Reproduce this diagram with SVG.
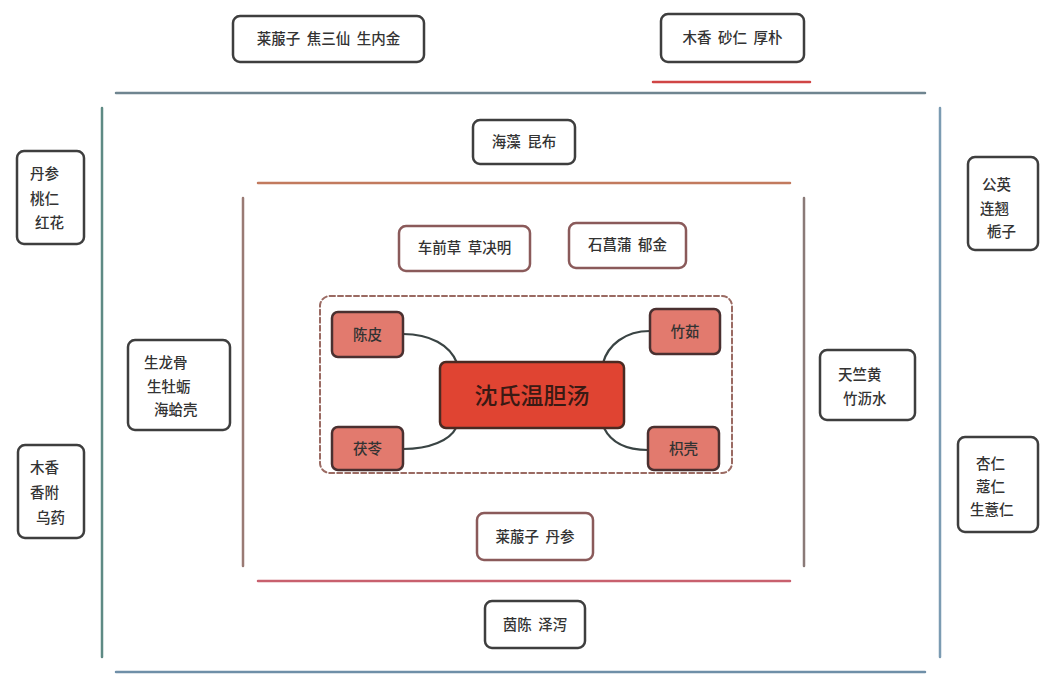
<svg xmlns="http://www.w3.org/2000/svg" width="1053" height="684" viewBox="0 0 1053 684">
<style>
text{font-family:"Noto Sans CJK SC","Noto Sans",sans-serif;font-size:14.5px;fill:#333;font-weight:500;white-space:pre}
.b{fill:#fff;stroke:#3e3e3e;stroke-width:2.5}
.br{fill:#fff;stroke:#8a5a5a;stroke-width:2.5}
.s{fill:#e27a6e;stroke:#4a3030;stroke-width:2.5}
.c{fill:none;stroke:#3a4444;stroke-width:2.2}
.m{text-anchor:middle}
</style>
<rect width="1053" height="684" fill="#fff"/>
<g id="frames" fill="none" stroke-linecap="round">
<line x1="116" y1="93" x2="925" y2="93" stroke="#6f8590" stroke-width="2.5"/>
<line x1="102" y1="108" x2="102" y2="657" stroke="#5e8a84" stroke-width="2.5"/>
<line x1="940" y1="108" x2="940" y2="657" stroke="#7b9bb2" stroke-width="2.5"/>
<line x1="116" y1="672" x2="925" y2="672" stroke="#6f8fa8" stroke-width="2.5"/>
<line x1="653" y1="82" x2="810" y2="82" stroke="#d04545" stroke-width="2.5"/>
<line x1="258" y1="183" x2="790" y2="183" stroke="#c27a5e" stroke-width="2.5"/>
<line x1="243" y1="198" x2="243" y2="566" stroke="#9a7a74" stroke-width="2.5"/>
<line x1="804" y1="198" x2="804" y2="566" stroke="#8a7a78" stroke-width="2.5"/>
<line x1="258" y1="581" x2="790" y2="581" stroke="#c8606e" stroke-width="2.5"/>
<rect x="320" y="296" width="412" height="177" rx="10" stroke="#9a6a62" stroke-width="2" stroke-dasharray="5 3"/>
</g>
<g id="connectors">
<path class="c" d="M403,334 C430,334 450,345 457,363"/>
<path class="c" d="M650,331 C625,331 608,345 603,363"/>
<path class="c" d="M403,449 C430,449 450,440 456,428"/>
<path class="c" d="M648,450 C622,450 610,440 604,428"/>
</g>
<g id="n-top1"><rect class="b" x="233" y="16" width="191" height="46" rx="7"/><text class="m" x="328.5" y="44">莱菔子  焦三仙  生内金</text></g>
<g id="n-top2"><rect class="b" x="661" y="14" width="143" height="48" rx="7"/><text class="m" x="732.5" y="43">木香  砂仁  厚朴</text></g>
<g id="n-haizao"><rect class="b" x="473" y="120" width="102" height="44" rx="7"/><text class="m" x="524" y="147">海藻  昆布</text></g>
<g id="n-cheqian"><rect class="br" x="399" y="226" width="131" height="45" rx="7"/><text class="m" x="464.5" y="253">车前草  草决明</text></g>
<g id="n-shichang"><rect class="br" x="569" y="223" width="117" height="45" rx="7"/><text class="m" x="627.5" y="250">石菖蒲  郁金</text></g>
<g id="n-center"><rect x="440" y="362" width="184" height="66" rx="6" fill="#e04432" stroke="#4a2a22" stroke-width="2.5"/><text class="m" x="532" y="404" style="font-size:23px;fill:#3a1a14">沈氏温胆汤</text></g>
<g id="n-chenpi"><rect class="s" x="332" y="312" width="71" height="45" rx="6"/><text class="m" x="367.5" y="340">陈皮</text></g>
<g id="n-zhuru"><rect class="s" x="650" y="309" width="70" height="45" rx="6"/><text class="m" x="685" y="337">竹茹</text></g>
<g id="n-fuling"><rect class="s" x="332" y="427" width="71" height="43" rx="6"/><text class="m" x="367.5" y="454">茯苓</text></g>
<g id="n-zhiqiao"><rect class="s" x="648" y="427" width="71" height="43" rx="6"/><text class="m" x="683.5" y="454">枳壳</text></g>
<g id="n-laifu"><rect class="br" x="477" y="513" width="116" height="47" rx="7"/><text class="m" x="535" y="542">莱菔子  丹参</text></g>
<g id="n-yinchen"><rect class="b" x="485" y="601" width="100" height="47" rx="7"/><text class="m" x="535" y="630">茵陈  泽泻</text></g>
<g id="n-danshen"><rect class="b" x="17" y="151" width="67" height="93" rx="7"/><text x="30" y="179">丹参</text><text x="30" y="204">桃仁</text><text x="35" y="228">红花</text></g>
<g id="n-muxiang"><rect class="b" x="18" y="445" width="66" height="93" rx="7"/><text x="30" y="473">木香</text><text x="30" y="498">香附</text><text x="36" y="523">乌药</text></g>
<g id="n-longgu"><rect class="b" x="128" y="340" width="102" height="90" rx="7"/><text x="144" y="368">生龙骨</text><text x="147" y="392">生牡蛎</text><text x="154" y="415">海蛤壳</text></g>
<g id="n-tianzhu"><rect class="b" x="820" y="350" width="95" height="70" rx="7"/><text x="838" y="380">天竺黄</text><text x="843" y="404">竹沥水</text></g>
<g id="n-gongying"><rect class="b" x="968" y="157" width="70" height="93" rx="7"/><text x="982" y="190">公英</text><text x="980" y="214">连翘</text><text x="987" y="237">栀子</text></g>
<g id="n-xingren"><rect class="b" x="958" y="437" width="80" height="95" rx="7"/><text x="976" y="469">杏仁</text><text x="976" y="492">蔻仁</text><text x="970" y="515">生薏仁</text></g>
</svg>
